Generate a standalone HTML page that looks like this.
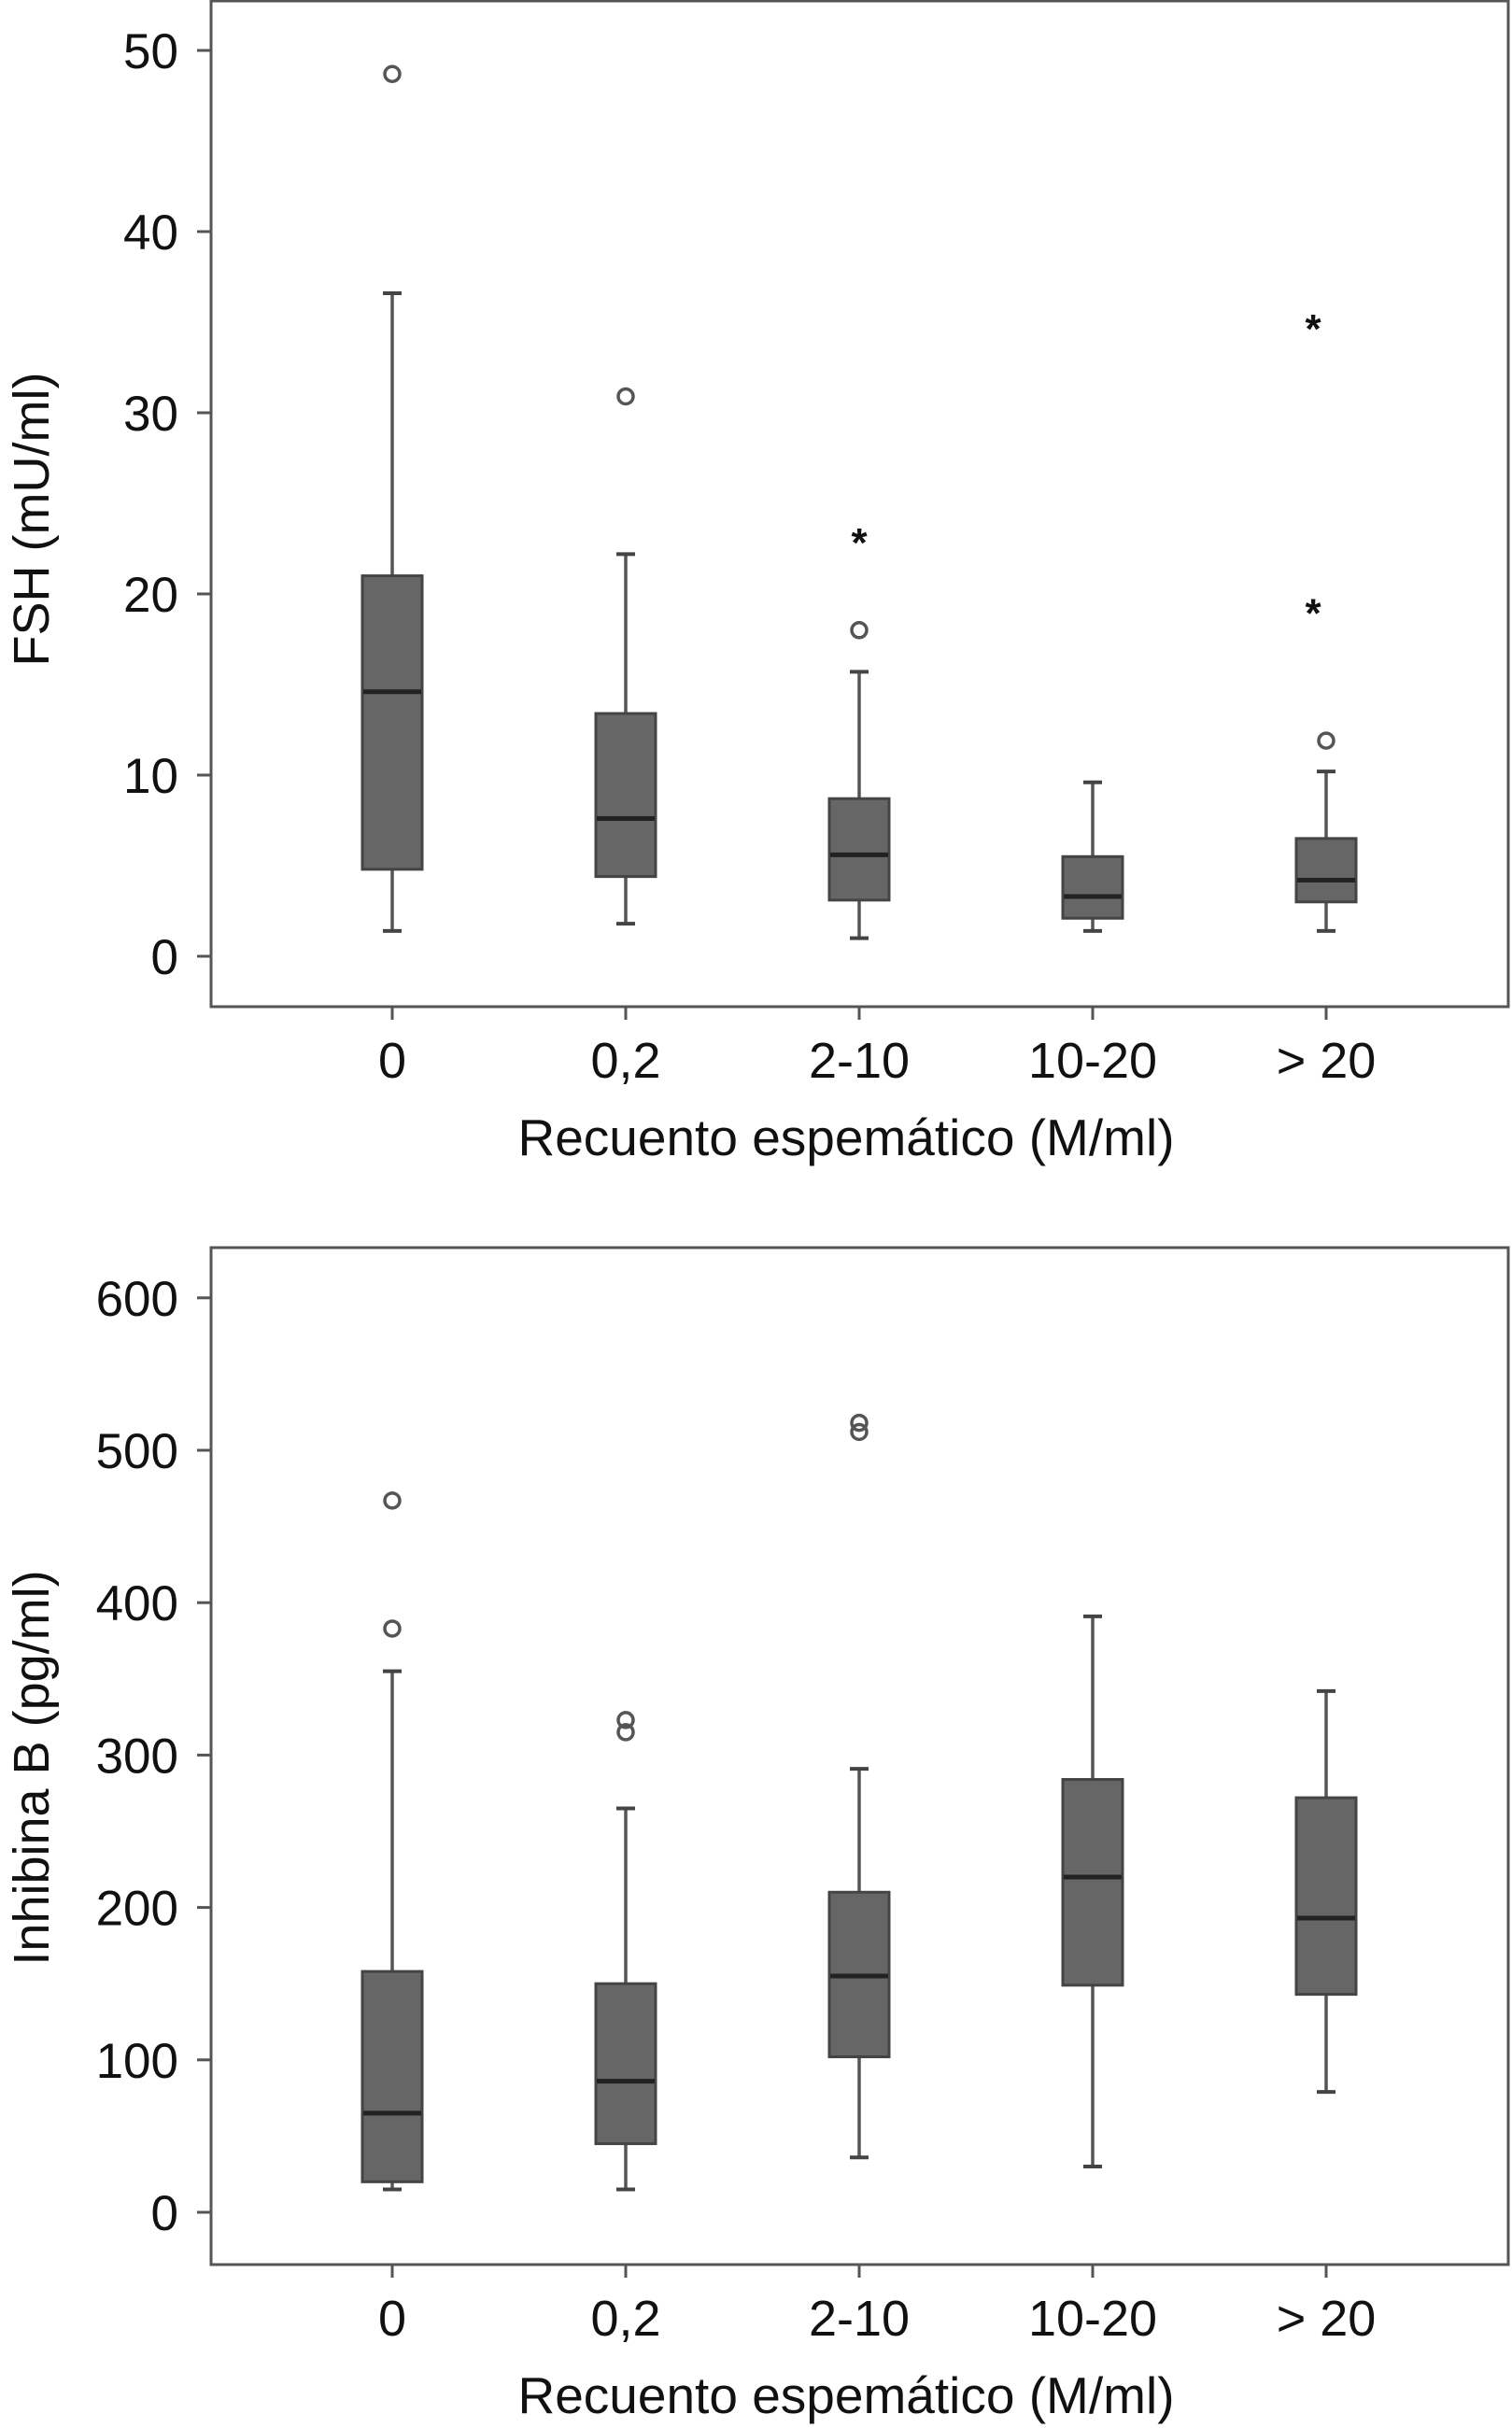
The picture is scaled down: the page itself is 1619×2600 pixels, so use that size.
<!DOCTYPE html>
<html><head><meta charset="utf-8">
<style>
html,body{margin:0;padding:0;background:#fff;}
svg{display:block;}
text{font-family:"Liberation Sans",sans-serif;fill:#111;}
</style></head>
<body>
<svg id="chart" width="1619" height="2600" viewBox="0 0 1619 2600" xmlns="http://www.w3.org/2000/svg"></svg>
<script>
const categories = ["0", "0,2", "2-10", "10-20", "> 20"];
// FSH panel
const fshTicks = [0, 10, 20, 30, 40, 50];
const fshMin = [1.4, 1.8, 1.0, 1.4, 1.4];
const fshQ1 = [4.8, 4.4, 3.1, 2.1, 3.0];
const fshMed = [14.6, 7.6, 5.6, 3.3, 4.2];
const fshQ3 = [21.0, 13.4, 8.7, 5.5, 6.5];
const fshMax = [36.6, 22.2, 15.7, 9.6, 10.2];
const fshOutCat = [0, 1, 2, 4];
const fshOutVal = [48.7, 30.9, 18.0, 11.9];
const fshExtCat = [2, 4, 4];
const fshExtVal = [23.2, 35.0, 19.3];
// Inhibina B panel
const inhTicks = [0, 100, 200, 300, 400, 500, 600];
const inhMin = [15, 15, 36, 30, 79];
const inhQ1 = [20, 45, 102, 149, 143];
const inhMed = [65, 86, 155, 220, 193];
const inhQ3 = [158, 150, 210, 284, 272];
const inhMax = [355, 265, 291, 391, 342];
const inhOutCat = [0, 0, 1, 1, 2, 2];
const inhOutVal = [467, 383, 323, 315, 518, 512];

const svg = document.getElementById('chart');
const NS = 'http://www.w3.org/2000/svg';
function el(tag, attrs, parent) {
  const e = document.createElementNS(NS, tag);
  for (const k in attrs) e.setAttribute(k, attrs[k]);
  (parent || svg).appendChild(e);
  return e;
}
const xPos = i => 420 + i * 250;

function panel(cfg) {
  const g = el('g', {});
  
  
  const y = v => cfg.y0 - (v - cfg.tickMin) * cfg.ppu;
  const L = 226, R = 1615;
  const frame = el('rect', {x: L, y: cfg.top, width: R - L, height: cfg.bottom - cfg.top, fill: 'none', stroke: '#555', 'stroke-width': 3}, g);
  
  
  cfg.ticks.forEach(t => {
    const yy = y(t);
    const tk = el('line', {x1: 211, x2: L, y1: yy, y2: yy, stroke: '#555', 'stroke-width': 3}, g);
    
    
    const tx = el('text', {x: 191, y: yy + 19, 'text-anchor': 'end', 'font-size': 53}, g);
    tx.textContent = t;
    
    
  });
  categories.forEach((c, i) => {
    const cx = xPos(i);
    const tk = el('line', {x1: cx, x2: cx, y1: cfg.bottom, y2: cfg.bottom + 14, stroke: '#555', 'stroke-width': 3}, g);
    
    
    const tx = el('text', {x: cx, y: cfg.bottom + 76, 'text-anchor': 'middle', 'font-size': 54}, g);
    tx.textContent = c;
    
    
    const w = el('line', {x1: cx, x2: cx, y1: y(cfg.min[i]), y2: y(cfg.max[i]), stroke: '#555', 'stroke-width': 3.5}, g);
    
    
    [cfg.min[i], cfg.max[i]].forEach(v => {
      const cap = el('line', {x1: cx - 10, x2: cx + 10, y1: y(v), y2: y(v), stroke: '#444', 'stroke-width': 4}, g);
      
      
    });
    const b = el('rect', {x: cx - 32, y: y(cfg.q3[i]), width: 64, height: y(cfg.q1[i]) - y(cfg.q3[i]), fill: '#666', stroke: '#444', 'stroke-width': 3}, g);
    
    
    const m = el('line', {x1: cx - 31, x2: cx + 31, y1: y(cfg.med[i]), y2: y(cfg.med[i]), stroke: '#222', 'stroke-width': 5}, g);
    
    
  });
  cfg.outCat.forEach((c, k) => {
    const o = el('circle', {cx: xPos(c), cy: y(cfg.outVal[k]), r: 8, fill: 'none', stroke: '#555', 'stroke-width': 3.5}, g);
    
    
  });
  cfg.extCat.forEach((c, k) => {
    const off = c === 4 ? -14 : 0;
    const s = el('text', {x: xPos(c) + off, y: y(cfg.extVal[k]) + 22, 'text-anchor': 'middle', 'font-size': 44, 'font-weight': 'bold'}, g);
    s.textContent = '*';
    
    
  });
  const xt = el('text', {x: 906, y: cfg.bottom + 159, 'text-anchor': 'middle', 'font-size': 55}, g);
  xt.textContent = 'Recuento espemático (M/ml)';
  
  
  const yt = el('text', {x: 0, y: 0, 'text-anchor': 'middle', 'font-size': 54, transform: 'translate(52,' + cfg.titleY + ') rotate(-90)'}, g);
  yt.textContent = cfg.title;
  
  
}

panel({name: 'fsh-panel', top: 1, bottom: 1078, y0: 1024, tickMin: 0, ppu: 19.4, ticks: fshTicks,
  min: fshMin, q1: fshQ1, med: fshMed, q3: fshQ3, max: fshMax,
  outCat: fshOutCat, outVal: fshOutVal, extCat: fshExtCat, extVal: fshExtVal,
  title: 'FSH (mU/ml)', titleY: 556});
panel({name: 'inhibina-panel', top: 1336, bottom: 2425, y0: 2369, tickMin: 0, ppu: 1.632, ticks: inhTicks,
  min: inhMin, q1: inhQ1, med: inhMed, q3: inhQ3, max: inhMax,
  outCat: inhOutCat, outVal: inhOutVal, extCat: [], extVal: [],
  title: 'Inhibina B (pg/ml)', titleY: 1893});
</script>
</body></html>
